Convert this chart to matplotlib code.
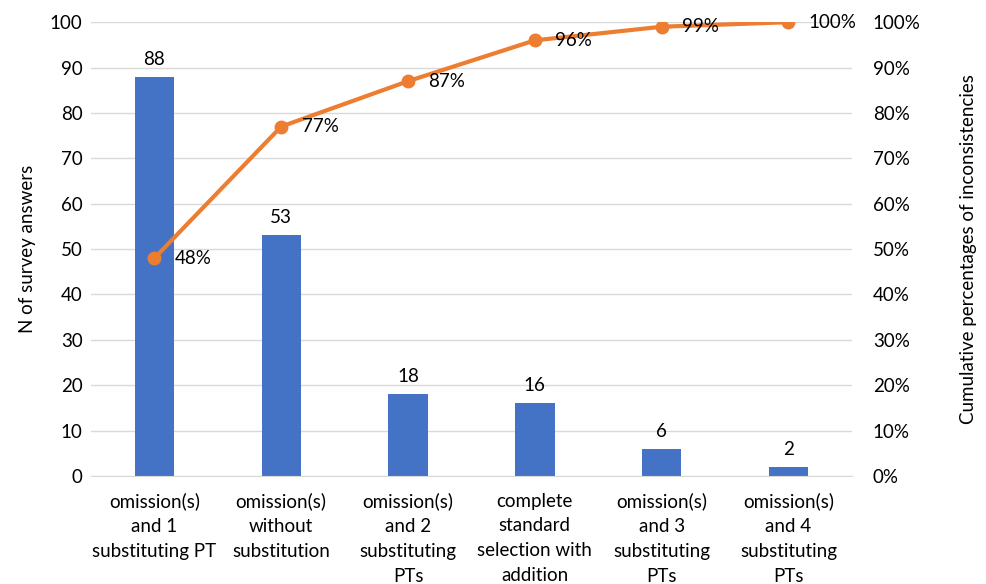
import matplotlib.pyplot as plt
from matplotlib.ticker import FuncFormatter

categories = ['omission(s)\nand 1\nsubstituting PT', 'omission(s)\nwithout\nsubstitution',
              'omission(s)\nand 2\nsubstituting\nPTs', 'complete\nstandard\nselection with\naddition',
              'omission(s)\nand 3\nsubstituting\nPTs', 'omission(s)\nand 4\nsubstituting\nPTs']
counts = [88, 53, 18, 16, 6, 2]
cum_pct = [48, 77, 87, 96, 99, 100]

plt.rcParams['font.family'] = ['Lato', 'DejaVu Sans']
plt.rcParams['font.size'] = 13.5

fig = plt.figure(figsize=(9.86, 5.84), dpi=100)
ax = fig.add_axes([0.0923, 0.185, 0.7717, 0.777])
x = range(len(categories))
ax.bar(x, counts, width=0.31, color='#4472C4', zorder=2)
for i, v in enumerate(counts):
    ax.text(i, v + 2, str(v), ha='center', va='bottom')
ax.set_xlim(-0.5, 5.5)
ax.set_ylim(0, 100)
ax.set_yticks(range(0, 101, 10))
ax.grid(axis='y', color='#d9d9d9', lw=1, zorder=0)
ax.set_xticks(list(x))
ax.set_xticklabels(categories, va='top', linespacing=1.55)
ax.tick_params(length=0, pad=6)
ax.tick_params(axis='x', pad=12)
for s in ['top', 'right', 'left']:
    ax.spines[s].set_visible(False)
ax.spines['bottom'].set_color('#d9d9d9')
ax.set_ylabel('N of survey answers', labelpad=10)

ax2 = ax.twinx()
ax2.plot(x, cum_pct, color='#ED7D31', lw=3, marker='o', ms=9, zorder=3)
for i, v in enumerate(cum_pct):
    ax2.text(i + 0.16, v, f'{v}%', ha='left', va='center')
ax2.set_ylim(0, 100)
ax2.set_yticks(range(0, 101, 10))
ax2.yaxis.set_major_formatter(FuncFormatter(lambda v, p: f'{int(v)}%'))
ax2.tick_params(length=0, pad=15)
for s in ax2.spines.values():
    s.set_visible(False)
ax2.set_ylabel('Cumulative percentages of inconsistencies', labelpad=28)

fig.savefig('out.png', dpi=100)
